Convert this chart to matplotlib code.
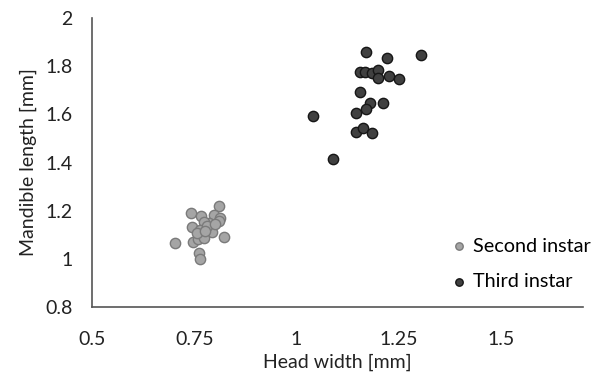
import matplotlib
matplotlib.use("Agg")
import matplotlib.pyplot as plt

plt.rcParams['font.family'] = ['Lato', 'DejaVu Sans']

second_hw = [0.810, 0.742, 0.766, 0.799, 0.814, 0.811, 0.785, 0.773, 0.744, 0.765,
             0.793, 0.781, 0.801, 0.822, 0.747, 0.703, 0.758, 0.773, 0.761, 0.765,
             0.756, 0.777]
second_ml = [1.219, 1.189, 1.177, 1.180, 1.171, 1.157, 1.150, 1.152, 1.133, 1.119,
             1.111, 1.136, 1.143, 1.092, 1.070, 1.064, 1.081, 1.088, 1.025, 1.001,
             1.109, 1.115]

third_hw = [1.169, 1.221, 1.304, 1.155, 1.167, 1.184, 1.200, 1.200, 1.227, 1.251,
            1.155, 1.179, 1.211, 1.169, 1.145, 1.040, 1.145, 1.163, 1.184, 1.088]
third_ml = [1.859, 1.834, 1.846, 1.775, 1.774, 1.771, 1.786, 1.749, 1.759, 1.745,
            1.692, 1.649, 1.647, 1.622, 1.604, 1.593, 1.528, 1.543, 1.523, 1.413]

x_ticks = [0.5, 0.75, 1, 1.25, 1.5]
x_labels = ["0.5", "0.75", "1", "1.25", "1.5"]
y_ticks = [0.8, 1, 1.2, 1.4, 1.6, 1.8, 2]
y_labels = ["0.8", "1", "1.2", "1.4", "1.6", "1.8", "2"]

fig = plt.figure(figsize=(6.02, 3.8), dpi=100)
ax = fig.add_axes([92/602, 1-307/380, (583-92)/602, (307-18)/380])

ax.scatter(second_hw, second_ml, s=55, facecolor='#a5a5a5', edgecolor='#7a7a7a',
           linewidth=1.0, label='Second instar', zorder=3)
ax.scatter(third_hw, third_ml, s=55, facecolor='#404040', edgecolor='#161616',
           linewidth=1.0, label='Third instar', zorder=3)

ax.set_xlim(0.5, 1.7)
ax.set_ylim(0.8, 2.0)
ax.set_xticks(x_ticks)
ax.set_xticklabels(x_labels)
ax.set_yticks(y_ticks)
ax.set_yticklabels(y_labels)
ax.tick_params(length=0, labelsize=14, colors='#222222')
ax.tick_params(axis='y', pad=14)
ax.tick_params(axis='x', pad=17)
for s in ['top', 'right']:
    ax.spines[s].set_visible(False)
for s in ['left', 'bottom']:
    ax.spines[s].set_color('#555555')
    ax.spines[s].set_linewidth(1.2)

ax.set_xlabel('Head width [mm]', fontsize=14, color='#222222', labelpad=4)
ax.set_ylabel('Mandible length [mm]', fontsize=14, color='#222222', labelpad=6)

leg = ax.legend(loc='center left', bbox_to_anchor=(0.69, 0.149), frameon=False,
                fontsize=14.3, markerscale=0.72, handletextpad=0.25,
                labelspacing=0.93, handlelength=1.0)

fig.savefig('out.png', dpi=100)
